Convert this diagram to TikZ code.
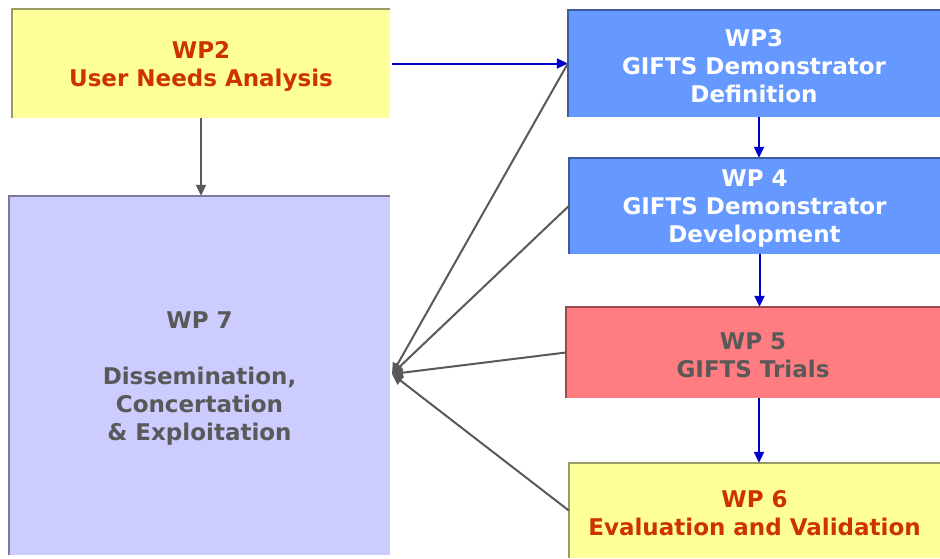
\documentclass[tikz,border=0pt]{standalone}
\usepackage{fontspec}
\setmainfont{DejaVu Sans}
\usetikzlibrary{arrows.meta}
\definecolor{yel}{HTML}{FFFF99}
\definecolor{yeledge}{HTML}{999966}
\definecolor{redtxt}{HTML}{CC3300}
\definecolor{blu}{HTML}{6699FF}
\definecolor{bluedge}{HTML}{3D5C99}
\definecolor{pnk}{HTML}{FF7C80}
\definecolor{pnkedge}{HTML}{994A4D}
\definecolor{lav}{HTML}{CCCCFF}
\definecolor{lavedge}{HTML}{7A7A99}
\definecolor{gtxt}{HTML}{595959}
\definecolor{arrblue}{HTML}{0000CC}
\begin{document}
\begin{tikzpicture}[x=1pt,y=1pt,
  box/.style={inner sep=0pt},
  lbl/.style={inner sep=0pt, align=center, font=\bfseries\fontsize{23}{28}\selectfont},
  edge/.style={line width=2pt},
  arrb/.style={draw=arrblue, line width=2pt, -{Triangle[length=11pt,width=10pt]}},
  arrg/.style={draw=gtxt, line width=2pt, -{Triangle[length=11pt,width=10pt]}}]
\useasboundingbox (0,0) rectangle (940,-558);
\node[box, fill=yel, minimum width=378pt, minimum height=109pt] (wp2) at (201,-63.5) {};
\node[box, fill=lav, minimum width=381pt, minimum height=359pt] (wp7) at (199.5,-375.5) {};
\node[box, fill=blu, minimum width=372pt, minimum height=107pt] (wp3) at (754,-63.5) {};
\node[box, fill=blu, minimum width=371pt, minimum height=96pt] (wp4) at (754.5,-206) {};
\node[box, fill=pnk, minimum width=374pt, minimum height=91pt] (wp5) at (753,-352.5) {};
\node[box, fill=yel, minimum width=371pt, minimum height=95pt] (wp6) at (754.5,-510.5) {};
\node[lbl, text=redtxt] (t2) at ([yshift=-2.5pt]wp2.center) {WP2\\User Needs Analysis};
\node[lbl, text=gtxt] (t7) at ([yshift=-2.5pt]wp7.center) {WP 7\\[28pt]Dissemination,\\Concertation\\\& Exploitation};
\node[lbl, text=white] (t3) at ([yshift=-2.5pt]wp3.center) {WP3\\GIFTS Demonstrator\\Definition};
\node[lbl, text=white] (t4) at ([yshift=-2.5pt]wp4.center) {WP 4\\GIFTS Demonstrator\\Development};
\node[lbl, text=gtxt] (t5) at ([yshift=-2.5pt]wp5.center) {WP 5\\GIFTS Trials};
\node[lbl, text=redtxt] (t6) at ([yshift=-2.5pt]wp6.center) {WP 6\\Evaluation and Validation};
\draw[yeledge, edge] (wp2.south west) -- (wp2.north west) -- (wp2.north east);
\draw[lavedge, edge] (wp7.south west) -- (wp7.north west) -- (wp7.north east);
\draw[bluedge, edge] (wp3.south west) -- (wp3.north west) -- (wp3.north east);
\draw[bluedge, edge] (wp4.south west) -- (wp4.north west) -- (wp4.north east);
\draw[pnkedge, edge] (wp5.south west) -- (wp5.north west) -- (wp5.north east);
\draw[yeledge, edge] (wp6.south west) -- (wp6.north west) -- (wp6.north east);
\coordinate (hub) at (392,-374);
\draw[arrb] ([xshift=2pt]wp2.east) -- (wp3.west);
\draw[arrg] (wp2.south) -- (wp2.south |- wp7.north);
\draw[arrb] ([xshift=5pt]wp3.south) -- ([xshift=5pt]wp3.south |- wp4.north);
\draw[arrb] ([xshift=5pt]wp4.south) -- ([xshift=5pt]wp4.south |- wp5.north);
\draw[arrb] ([xshift=6pt]wp5.south) -- ([xshift=6pt]wp5.south |- wp6.north);
\draw[arrg] (wp3.west) -- (hub);
\draw[arrg] (wp4.west) -- (hub);
\draw[arrg] (wp5.west) -- (hub);
\draw[arrg] (wp6.west) -- (hub);
\end{tikzpicture}
\end{document}
